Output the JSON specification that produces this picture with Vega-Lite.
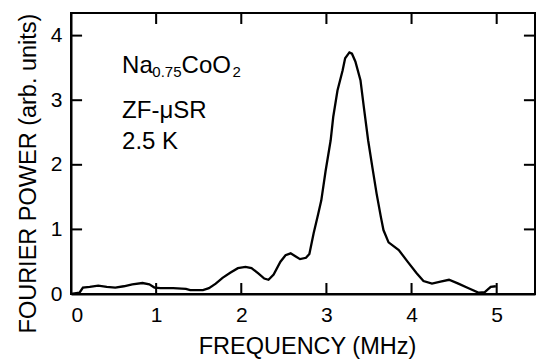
{
  "$schema": "https://vega.github.io/schema/vega-lite/v6.json",
  "width": 464,
  "height": 281,
  "autosize": "none",
  "padding": {"left": 71, "top": 13, "right": 3, "bottom": 65},
  "background": "white",
  "config": {
    "font": "Liberation Sans",
    "view": {"stroke": "black", "strokeWidth": 2},
    "rule": {"color": "black", "strokeWidth": 2},
    "rect": {"color": "black"},
    "axis": {
      "domainColor": "black",
      "domainWidth": 2,
      "ticks": false,
      "grid": false,
      "labelColor": "black",
      "labelFont": "Liberation Sans",
      "labelFontSize": 21,
      "titleColor": "black",
      "titleFont": "Liberation Sans",
      "titleFontSize": 23.5,
      "titleFontWeight": "normal"
    }
  },
  "datasets": {
    "curve": [
      {"f": 0.0, "p": 0.0},
      {"f": 0.1, "p": 0.02},
      {"f": 0.14, "p": 0.1},
      {"f": 0.22, "p": 0.11},
      {"f": 0.32, "p": 0.13},
      {"f": 0.42, "p": 0.11},
      {"f": 0.52, "p": 0.1},
      {"f": 0.62, "p": 0.12},
      {"f": 0.72, "p": 0.15},
      {"f": 0.84, "p": 0.17},
      {"f": 0.92, "p": 0.15},
      {"f": 0.98, "p": 0.1},
      {"f": 1.05, "p": 0.09},
      {"f": 1.2, "p": 0.09},
      {"f": 1.35, "p": 0.08},
      {"f": 1.4, "p": 0.06},
      {"f": 1.55, "p": 0.06},
      {"f": 1.62, "p": 0.09},
      {"f": 1.7, "p": 0.16},
      {"f": 1.78, "p": 0.25},
      {"f": 1.87, "p": 0.33},
      {"f": 1.96, "p": 0.4},
      {"f": 2.05, "p": 0.42},
      {"f": 2.12, "p": 0.4},
      {"f": 2.2, "p": 0.32},
      {"f": 2.27, "p": 0.24},
      {"f": 2.32, "p": 0.22},
      {"f": 2.38, "p": 0.3},
      {"f": 2.46, "p": 0.5},
      {"f": 2.52, "p": 0.6},
      {"f": 2.58, "p": 0.63},
      {"f": 2.64, "p": 0.58},
      {"f": 2.69, "p": 0.54},
      {"f": 2.76, "p": 0.56},
      {"f": 2.8, "p": 0.62},
      {"f": 2.85, "p": 0.94},
      {"f": 2.9, "p": 1.22},
      {"f": 2.94, "p": 1.45},
      {"f": 2.99, "p": 1.9},
      {"f": 3.05, "p": 2.38},
      {"f": 3.08, "p": 2.74},
      {"f": 3.13, "p": 3.15},
      {"f": 3.19, "p": 3.46},
      {"f": 3.22, "p": 3.65},
      {"f": 3.27, "p": 3.74},
      {"f": 3.3, "p": 3.72},
      {"f": 3.34, "p": 3.6},
      {"f": 3.4, "p": 3.31},
      {"f": 3.44, "p": 2.89},
      {"f": 3.49, "p": 2.38},
      {"f": 3.54, "p": 1.96},
      {"f": 3.59, "p": 1.55},
      {"f": 3.64, "p": 1.19},
      {"f": 3.67, "p": 0.99},
      {"f": 3.73, "p": 0.8},
      {"f": 3.85, "p": 0.68},
      {"f": 3.96, "p": 0.49},
      {"f": 4.06, "p": 0.32},
      {"f": 4.14, "p": 0.2},
      {"f": 4.24, "p": 0.16},
      {"f": 4.34, "p": 0.19},
      {"f": 4.44, "p": 0.22},
      {"f": 4.55, "p": 0.16},
      {"f": 4.67, "p": 0.09},
      {"f": 4.79, "p": 0.02},
      {"f": 4.86, "p": 0.03},
      {"f": 4.93, "p": 0.11},
      {"f": 4.99, "p": 0.12}
    ],
    "one": [{"k": 1}],
    "yticks": [{"v": 1}, {"v": 2}, {"v": 3}, {"v": 4}],
    "labels": [
      {"t": "Na", "x": 0.6, "y": 3.42},
      {"t": "CoO", "x": 1.299, "y": 3.42},
      {"t": "ZF-μSR", "x": 0.6, "y": 2.73},
      {"t": "2.5 K", "x": 0.6, "y": 2.24}
    ],
    "subs": [
      {"t": "0.75", "x": 0.955, "y": 3.36},
      {"t": "2", "x": 1.896, "y": 3.36}
    ]
  },
  "layer": [
    {
      "data": {"name": "curve"},
      "mark": {"type": "line", "color": "black", "strokeWidth": 2.3, "clip": true},
      "encoding": {
        "x": {
          "field": "f", "type": "quantitative",
          "scale": {"domain": [0, 5.45], "nice": false, "zero": false},
          "axis": {
            "orient": "bottom",
            "values": [0, 1, 2, 3, 4, 5],
            "format": "d",
            "labelPadding": 10,
            "title": "FREQUENCY (MHz)",
            "titleX": 236,
            "titleY": 59,
            "titleBaseline": "alphabetic",
            "titleAlign": "center"
          }
        },
        "y": {
          "field": "p", "type": "quantitative",
          "scale": {"domain": [0, 4.35], "nice": false, "zero": false},
          "axis": {
            "orient": "left",
            "values": [0, 1, 2, 3, 4],
            "format": "d",
            "labelPadding": 9,
            "title": "FOURIER POWER (arb. units)",
            "titleX": -36,
            "titleY": 160,
            "titleAngle": -90,
            "titleBaseline": "alphabetic",
            "titleAlign": "center"
          }
        }
      }
    },
    {"data": {"name": "one"}, "mark": {"type": "rect", "color": "black"}, "encoding": {"x": {"datum": 0.988, "type": "quantitative"}, "x2": {"datum": 1.012}, "y": {"datum": 0.17, "type": "quantitative"}, "y2": {"datum": 0.0}}},
    {"data": {"name": "one"}, "mark": {"type": "rect", "color": "black"}, "encoding": {"x": {"datum": 1.988, "type": "quantitative"}, "x2": {"datum": 2.012}, "y": {"datum": 0.17, "type": "quantitative"}, "y2": {"datum": 0.0}}},
    {"data": {"name": "one"}, "mark": {"type": "rect", "color": "black"}, "encoding": {"x": {"datum": 2.988, "type": "quantitative"}, "x2": {"datum": 3.012}, "y": {"datum": 0.17, "type": "quantitative"}, "y2": {"datum": 0.0}}},
    {"data": {"name": "one"}, "mark": {"type": "rect", "color": "black"}, "encoding": {"x": {"datum": 3.988, "type": "quantitative"}, "x2": {"datum": 4.012}, "y": {"datum": 0.17, "type": "quantitative"}, "y2": {"datum": 0.0}}},
    {"data": {"name": "one"}, "mark": {"type": "rect", "color": "black"}, "encoding": {"x": {"datum": 4.988, "type": "quantitative"}, "x2": {"datum": 5.012}, "y": {"datum": 0.17, "type": "quantitative"}, "y2": {"datum": 0.0}}},
    {"data": {"name": "one"}, "mark": {"type": "rect", "color": "black"}, "encoding": {"x": {"datum": 0.988, "type": "quantitative"}, "x2": {"datum": 1.012}, "y": {"datum": 4.35, "type": "quantitative"}, "y2": {"datum": 4.18}}},
    {"data": {"name": "one"}, "mark": {"type": "rect", "color": "black"}, "encoding": {"x": {"datum": 1.988, "type": "quantitative"}, "x2": {"datum": 2.012}, "y": {"datum": 4.35, "type": "quantitative"}, "y2": {"datum": 4.18}}},
    {"data": {"name": "one"}, "mark": {"type": "rect", "color": "black"}, "encoding": {"x": {"datum": 2.988, "type": "quantitative"}, "x2": {"datum": 3.012}, "y": {"datum": 4.35, "type": "quantitative"}, "y2": {"datum": 4.18}}},
    {"data": {"name": "one"}, "mark": {"type": "rect", "color": "black"}, "encoding": {"x": {"datum": 3.988, "type": "quantitative"}, "x2": {"datum": 4.012}, "y": {"datum": 4.35, "type": "quantitative"}, "y2": {"datum": 4.18}}},
    {"data": {"name": "one"}, "mark": {"type": "rect", "color": "black"}, "encoding": {"x": {"datum": 4.988, "type": "quantitative"}, "x2": {"datum": 5.012}, "y": {"datum": 4.35, "type": "quantitative"}, "y2": {"datum": 4.18}}},
    {
      "data": {"name": "yticks"},
      "mark": "rule",
      "encoding": {
        "y": {"field": "v", "type": "quantitative"},
        "x": {"datum": 0.13, "type": "quantitative"},
        "x2": {"datum": 0.001}
      }
    },
    {
      "data": {"name": "yticks"},
      "mark": "rule",
      "encoding": {
        "y": {"field": "v", "type": "quantitative"},
        "x": {"datum": 5.45, "type": "quantitative"},
        "x2": {"datum": 5.32}
      }
    },
    {
      "data": {"name": "labels"},
      "mark": {"type": "text", "align": "left", "baseline": "alphabetic", "fontSize": 24, "font": "Liberation Sans", "color": "black"},
      "encoding": {
        "x": {"field": "x", "type": "quantitative"},
        "y": {"field": "y", "type": "quantitative"},
        "text": {"field": "t"}
      }
    },
    {
      "data": {"name": "subs"},
      "mark": {"type": "text", "align": "left", "baseline": "alphabetic", "fontSize": 15, "font": "Liberation Sans", "color": "black"},
      "encoding": {
        "x": {"field": "x", "type": "quantitative"},
        "y": {"field": "y", "type": "quantitative"},
        "text": {"field": "t"}
      }
    }
  ]
}
